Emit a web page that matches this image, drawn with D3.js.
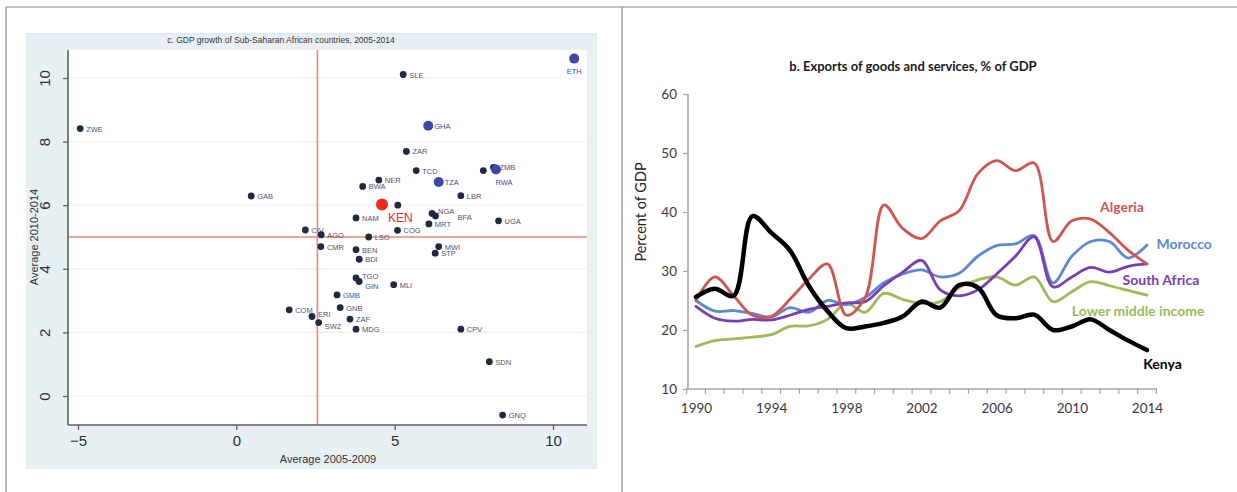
<!DOCTYPE html>
<html>
<head>
<meta charset="utf-8">
<script src="https://cdn.jsdelivr.net/npm/d3@7"></script>
<style>
  html, body { margin: 0; padding: 0; background: #fff; }
  svg { display: block; }
</style>
</head>
<body>
<svg id="chart" width="1237" height="492"></svg>
<script>
// ---------- Panel c: GDP growth scatter ----------
const countryCodes = ["ETH","SLE","ZWE","GHA","ZAR","TCD","","ZMB","RWA","NER","BWA","TZA","LBR","GAB","KEN","","NAM","NGA","BFA","MRT","UGA","COG","CIV","AGO","LSO","CMR","BEN","BDI","MWI","STP","TGO","GIN","MLI","GMB","GNB","COM","ERI","SWZ","ZAF","MDG","CPV","SDN","GNQ"];
const growth0509 = [10.67,5.27,-4.93,6.06,5.37,5.68,7.80,8.12,8.20,4.50,3.99,6.39,7.09,0.47,4.60,5.10,3.78,6.18,6.29,6.08,8.28,5.09,2.18,2.68,4.18,2.67,3.78,3.88,6.39,6.28,3.78,3.88,4.97,3.18,3.28,1.67,2.39,2.60,3.59,3.78,7.09,7.99,8.41];
const growth1014 = [10.61,10.11,8.41,8.50,7.69,7.09,7.09,7.19,7.12,6.79,6.59,6.73,6.30,6.29,6.02,6.00,5.60,5.74,5.66,5.41,5.51,5.21,5.22,5.07,5.00,4.70,4.60,4.30,4.70,4.49,3.71,3.60,3.50,3.18,2.78,2.71,2.50,2.31,2.42,2.10,2.10,1.08,-0.60];
// peer = comparator economies, focus = Kenya
const countryGroup = ["peer","","","peer","","","","","peer","","","peer","","","focus","","","","","","","","","","","","","","","","","","","","","","","","","","","",""];
const scatterXTicks = [-5, 0, 5, 10];
const scatterYTicks = [0, 2, 4, 6, 8, 10];
const refX = 2.56;   // mean growth 2005-2009
const refY = 5.0;    // mean growth 2010-2014

// ---------- Panel b: exports, % of GDP ----------
const years = d3.range(1990, 2015);
const algeria      = [25.0,29.0,25.8,22.5,22.3,25.2,28.6,31.2,22.5,25.5,41.2,37.2,35.5,38.5,40.2,46.5,48.7,47.0,48.3,35.0,38.5,38.8,36.5,33.5,31.2];
const morocco      = [25.0,23.2,23.3,22.8,22.2,23.8,23.0,25.0,24.3,25.5,28.0,29.5,30.2,29.0,29.6,32.5,34.3,34.6,36.0,28.0,32.5,35.0,35.0,32.2,34.4];
const southAfrica  = [24.0,22.0,21.5,21.8,21.7,22.5,23.5,24.0,24.6,24.8,27.5,29.8,31.8,26.8,25.8,26.8,29.5,32.5,35.8,27.3,29.0,30.6,29.8,30.8,31.2];
const lowerMiddle  = [17.2,18.2,18.5,18.8,19.2,20.6,20.7,21.8,24.5,23.0,26.2,25.2,24.5,24.8,27.2,28.5,29.0,27.6,29.0,24.8,26.5,28.2,27.5,26.7,25.9];
const kenya        = [25.6,27.0,25.8,39.3,36.5,33.5,27.5,23.2,20.3,20.6,21.2,22.3,24.8,23.8,27.6,27.2,22.5,22.0,22.6,20.0,20.6,21.8,20.0,18.2,16.6];
const exportTicks = [10, 20, 30, 40, 50, 60];
const yearLabels = [1990, 1994, 1998, 2002, 2006, 2010, 2014];

const svg = d3.select("#chart");

// page frame
const frame = svg.append("g").attr("stroke", "#8a8a8a").attr("stroke-width", 1.2).attr("fill", "none");
frame.append("line").attr("x1", 6).attr("y1", 7).attr("x2", 1237).attr("y2", 7);
frame.append("line").attr("x1", 6).attr("y1", 7).attr("x2", 6).attr("y2", 492);
frame.append("line").attr("x1", 622).attr("y1", 7).attr("x2", 622).attr("y2", 492);

// ================= scatter panel =================
const sc = svg.append("g");
sc.append("rect").attr("x", 26).attr("y", 33).attr("width", 571).attr("height", 436).attr("fill", "#e9f0f3");
sc.append("rect").attr("x", 26).attr("y", 33).attr("width", 571).attr("height", 2).attr("fill", "#d8edf9");
sc.append("rect").attr("x", 68).attr("y", 50).attr("width", 519).attr("height", 375).attr("fill", "#ffffff");

const sx = d3.scaleLinear().domain([-5, 10]).range([78, 553]);
const sy = d3.scaleLinear().domain([0, 10]).range([396, 78]);

// faint horizontal grid
sc.append("g").selectAll("line").data(scatterYTicks).join("line")
  .attr("x1", 68).attr("x2", 587)
  .attr("y1", d => sy(d)).attr("y2", d => sy(d))
  .attr("stroke", "#eef1f3").attr("stroke-width", 1.2);

// reference lines
sc.append("line").attr("x1", sx(refX)).attr("x2", sx(refX)).attr("y1", 50).attr("y2", 425)
  .attr("stroke", "#f0837a").attr("stroke-width", 1.6);
sc.append("line").attr("x1", 68).attr("x2", 587).attr("y1", sy(refY)).attr("y2", sy(refY))
  .attr("stroke", "#f0837a").attr("stroke-width", 1.6);

// axes
const sxAxis = sc.append("g").attr("transform", "translate(0,425)")
  .call(d3.axisBottom(sx).tickValues(scatterXTicks).tickSize(5).tickFormat(d3.format("d")));
sxAxis.select(".domain").attr("d", "M68,0H587");
const syAxis = sc.append("g").attr("transform", "translate(68,0)")
  .call(d3.axisLeft(sy).tickValues(scatterYTicks).tickSize(5).tickFormat(d3.format("d")));
syAxis.select(".domain").attr("d", "M0,50V425");
[sxAxis, syAxis].forEach(a => {
  a.selectAll(".domain").attr("stroke", "#5e6266").attr("stroke-width", 1.6);
  a.selectAll(".tick line").attr("stroke", "#5e6266").attr("stroke-width", 1.3);
  a.selectAll("text").attr("fill", "#2e3135").style("font-family", "Liberation Sans, Arial, sans-serif").style("font-size", "15px");
});
sxAxis.selectAll("text").attr("y", 10);
syAxis.selectAll("text").attr("x", 0).attr("y", 0).attr("dy", null)
  .attr("transform", "translate(-18,0) rotate(-90)")
  .attr("text-anchor", "middle");

// titles
sc.append("text").attr("x", 281).attr("y", 43).attr("text-anchor", "middle")
  .style("font-family", "Liberation Sans, Arial, sans-serif").style("font-size", "8.5px").attr("fill", "#333")
  .text("c. GDP growth of Sub-Saharan African countries, 2005-2014");
sc.append("text").attr("x", 328).attr("y", 463).attr("text-anchor", "middle")
  .style("font-family", "Liberation Sans, Arial, sans-serif").style("font-size", "11px").attr("fill", "#333")
  .text("Average 2005-2009");
sc.append("text").attr("transform", "translate(38,237) rotate(-90)").attr("text-anchor", "middle")
  .style("font-family", "Liberation Sans, Arial, sans-serif").style("font-size", "11px").attr("fill", "#333")
  .text("Average 2010-2014");

const pts = countryCodes.map((c, i) => ({ code: c, x: growth0509[i], y: growth1014[i], g: countryGroup[i] }));
const markColor = g => g === "focus" ? "#ee2a1f" : g === "peer" ? "#3d49a6" : "#1c2a44";
const markR = g => g === "focus" ? 6 : g === "peer" ? 5 : 3.4;
const below = new Set(["ETH", "RWA"]);
// small nudges keep crowded labels apart
const labelNudge = { NGA: [0, -2], BFA: [16, 1], TGO: [0, -2], GIN: [0, 4], ERI: [0, -3], SWZ: [0, 3] };
const nudge = (p, k) => (labelNudge[p.code] || [0, 0])[k];

// labels
sc.append("g").selectAll("text").data(pts.filter(p => p.code !== "")).join("text")
  .attr("x", p => (p.g === "focus" ? sx(p.x) + 6 : below.has(p.code) ? sx(p.x) + (p.code === "RWA" ? 8 : 0) : sx(p.x) + 6) + nudge(p, 0))
  .attr("y", p => (p.g === "focus" ? sy(p.y) + 17 : below.has(p.code) ? sy(p.y) + 15 : sy(p.y) + 3) + nudge(p, 1))
  .attr("text-anchor", p => below.has(p.code) ? "middle" : "start")
  .style("font-family", "Liberation Sans, Arial, sans-serif")
  .style("font-size", p => p.g === "focus" ? "12px" : "7.5px")
  .attr("fill", p => p.g === "focus" ? "#ee2a1f" : p.g === "peer" ? "#3d49a6" : "#4a5670")
  .text(p => p.code);

// markers
sc.append("g").selectAll("circle").data(pts).join("circle")
  .attr("cx", p => sx(p.x)).attr("cy", p => sy(p.y))
  .attr("r", p => markR(p.g)).attr("fill", p => markColor(p.g));

// ================= exports panel =================
const ex = svg.append("g");
const xx = d3.scaleLinear().domain([1990, 2014]).range([696, 1147]);
const yy = d3.scaleLinear().domain([10, 60]).range([389, 94]);

const font = "Lato, 'Open Sans', sans-serif";

ex.append("text").attr("x", 913).attr("y", 71).attr("text-anchor", "middle")
  .style("font-family", font).style("font-weight", "bold").style("font-size", "13px").attr("fill", "#1a1a1a")
  .text("b. Exports of goods and services, % of GDP");

// y axis
const eyAxis = ex.append("g").attr("transform", "translate(688,0)")
  .call(d3.axisLeft(yy).tickValues(exportTicks).tickSize(5).tickPadding(6));
eyAxis.select(".domain").attr("d", `M0,${yy(60)}V${yy(10)}`);
// x axis with a tick at every year boundary
const boundaries = d3.range(1989.5, 2015, 1);
const exAxis = ex.append("g").attr("transform", `translate(0,${yy(10)})`)
  .call(d3.axisBottom(xx).tickValues(yearLabels).tickSize(0).tickPadding(14).tickFormat(d3.format("d")));
exAxis.select(".domain").attr("d", `M688,0H${xx(2014.5)}`);
exAxis.append("g").selectAll("line").data(boundaries).join("line")
  .attr("x1", d => xx(d)).attr("x2", d => xx(d)).attr("y1", -1).attr("y2", 5)
  .attr("stroke", "#a6a6a6").attr("stroke-width", 1.2);
[eyAxis, exAxis].forEach(a => {
  a.selectAll(".domain").attr("stroke", "#a6a6a6").attr("stroke-width", 1.6);
  a.selectAll(".tick line").attr("stroke", "#a6a6a6").attr("stroke-width", 1.2);
  a.selectAll("text").style("font-family", font).style("font-size", "13.5px").attr("fill", "#3a3a3a");
});

ex.append("text").attr("transform", "translate(646,212) rotate(-90)").attr("text-anchor", "middle")
  .style("font-family", font).style("font-size", "14.5px").attr("fill", "#262626")
  .text("Percent of GDP");

const series = [
  { name: "Lower middle income", values: lowerMiddle, color: "#9bbb59", w: 2.8, lx: 2010.0, ly: 23.2 },
  { name: "Morocco",             values: morocco,     color: "#5a8ad0", w: 2.8, lx: 2014.5, ly: 34.6 },
  { name: "South Africa",        values: southAfrica, color: "#7a3db3", w: 2.8, lx: 2012.7, ly: 28.5 },
  { name: "Algeria",             values: algeria,     color: "#cf5551", w: 2.8, lx: 2011.5, ly: 40.8 },
  { name: "Kenya",               values: kenya,       color: "#000000", w: 4.5, lx: 2013.8, ly: 14.2 }
];

const line = d3.line()
  .x((d, i) => xx(years[i]))
  .y(d => yy(d))
  .curve(d3.curveCatmullRom.alpha(0.5));

ex.append("g").selectAll("path").data(series).join("path")
  .attr("d", s => line(s.values))
  .attr("fill", "none")
  .attr("stroke", s => s.color)
  .attr("stroke-width", s => s.w)
  .attr("stroke-linejoin", "round")
  .attr("stroke-linecap", "round");

ex.append("g").selectAll("text").data(series).join("text")
  .attr("x", s => xx(s.lx)).attr("y", s => yy(s.ly)).attr("dy", "0.35em")
  .style("font-family", font).style("font-weight", "bold").style("font-size", "14px")
  .attr("fill", s => s.color)
  .text(s => s.name);
</script>
</body>
</html>
